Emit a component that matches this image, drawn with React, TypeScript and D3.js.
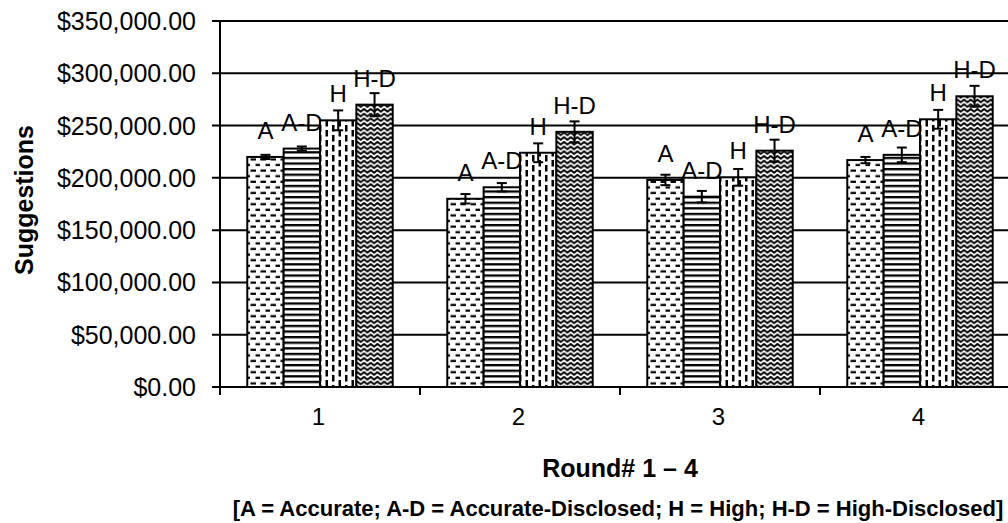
import React from "react";
import * as d3 from "d3";

const categories = ["1", "2", "3", "4"];
const seriesNames = ["A", "A-D", "H", "H-D"];
const valuesA = [220000, 180000, 198000, 217000];
const valuesAD = [228000, 191000, 182000, 222000];
const valuesH = [255000, 224000, 200500, 256000];
const valuesHD = [270000, 244000, 226000, 278000];
const errA = [2000, 4500, 5000, 3000];
const errAD = [2000, 4000, 5500, 7000];
const errH = [9500, 9000, 8000, 9000];
const errHD = [11000, 10000, 10500, 10000];
const yTicks = [0, 50000, 100000, 150000, 200000, 250000, 300000, 350000];
const yTitle = "Suggestions";
const xTitle = "Round# 1 \u2013 4";
const note = "[A = Accurate; A-D = Accurate-Disclosed; H = High; H-D = High-Disclosed]";

const seriesValues = [valuesA, valuesAD, valuesH, valuesHD];
const seriesErrors = [errA, errAD, errH, errHD];
const patternIds = ["patA", "patAD", "patH", "patHD"];

const W = 1008;
const H = 523;
const FONT = "'Liberation Sans', Arial, Helvetica, sans-serif";

export default function App() {
  const left = 220;
  const right = 1020;
  const top = 21;
  const bottom = 387;

  const x0 = d3.scaleBand<string>().domain(categories).range([left, right]).paddingInner(0).paddingOuter(0);
  const x1 = d3
    .scaleBand<string>()
    .domain(seriesNames)
    .range([0, x0.bandwidth()])
    .paddingInner(0)
    .paddingOuter(0.75);
  const y = d3.scaleLinear().domain([0, 350000]).range([bottom, top]);
  const fmt = (v: number) => "$" + d3.format(",.2f")(v);

  const boundaries = categories.map((c) => x0(c) as number).concat([right]);

  return (
    <svg
      width={W}
      height={H}
      style={{ position: "absolute", left: 0, top: 0, background: "#fff" }}
      fontFamily={FONT}
    >
      <defs>
        <pattern id="patA" patternUnits="userSpaceOnUse" width={10} height={11.2}>
          <rect width={10} height={11.2} fill="#fff" />
          <rect x={0.5} y={1.5} width={5.5} height={2.2} fill="#000" />
          <rect x={5.5} y={7.1} width={5.5} height={2.2} fill="#000" />
        </pattern>
        <pattern id="patAD" patternUnits="userSpaceOnUse" width={10} height={5.6}>
          <rect width={10} height={5.6} fill="#fff" />
          <rect x={0} y={0} width={10} height={2.3} fill="#000" />
        </pattern>
        <pattern id="patH" patternUnits="userSpaceOnUse" width={13} height={10}>
          <rect width={13} height={10} fill="#fff" />
          <rect x={1.5} y={0} width={2.5} height={6.5} fill="#000" />
          <rect x={8} y={5} width={2.5} height={5} fill="#000" />
          <rect x={8} y={0} width={2.5} height={1.5} fill="#000" />
        </pattern>
        <pattern id="patHD" patternUnits="userSpaceOnUse" width={6.7} height={4.7}>
          <rect width={6.7} height={4.7} fill="#fff" />
          <path d="M-0.5,3.9 L3.35,0.9 L7.2,3.9" fill="none" stroke="#000" strokeWidth={2} />
        </pattern>
      </defs>

      {/* gridlines */}
      {yTicks.map((t) => (
        <line key={"g" + t} x1={left - 8} x2={W} y1={y(t)} y2={y(t)} stroke="#000" strokeWidth={2} />
      ))}
      {/* y axis */}
      <line x1={left} x2={left} y1={top} y2={bottom + 8} stroke="#000" strokeWidth={2} />
      {/* x ticks */}
      {boundaries.map((b, i) => (
        <line key={"xt" + i} x1={b} x2={b} y1={bottom} y2={bottom + 8} stroke="#000" strokeWidth={2} />
      ))}

      {/* y tick labels */}
      {yTicks.map((t) => (
        <text
          key={"yl" + t}
          x={196}
          y={y(t)}
          dy="0.36em"
          textAnchor="end"
          fontSize={25}
          fill="#000"
        >
          {fmt(t)}
        </text>
      ))}

      {/* bars */}
      {categories.map((c, ci) => (
        <g key={"c" + c} transform={`translate(${x0(c)},0)`}>
          {seriesNames.map((s, si) => {
            const v = seriesValues[si][ci];
            const e = seriesErrors[si][ci];
            const bx = x1(s) as number;
            const bw = x1.bandwidth();
            const cx = bx + bw / 2;
            return (
              <g key={s}>
                <rect
                  x={bx}
                  y={y(v)}
                  width={bw}
                  height={y(0) - y(v)}
                  fill={`url(#${patternIds[si]})`}
                  stroke="#000"
                  strokeWidth={2}
                />
                <line x1={cx} x2={cx} y1={y(v + e)} y2={y(v - e)} stroke="#000" strokeWidth={2} />
                <line x1={cx - 5} x2={cx + 5} y1={y(v + e)} y2={y(v + e)} stroke="#000" strokeWidth={2} />
                <line x1={cx - 5} x2={cx + 5} y1={y(v - e)} y2={y(v - e)} stroke="#000" strokeWidth={2} />
                <text x={cx} y={y(v) - 18} textAnchor="middle" fontSize={24} fill="#000">
                  {s}
                </text>
              </g>
            );
          })}
        </g>
      ))}

      {/* x tick labels */}
      {categories.map((c) => (
        <text
          key={"xl" + c}
          x={(x0(c) as number) + x0.bandwidth() / 2 - 1.5}
          y={425}
          textAnchor="middle"
          fontSize={24}
          fill="#000"
        >
          {c}
        </text>
      ))}

      {/* axis titles */}
      <text
        transform={`translate(33,200) rotate(-90)`}
        textAnchor="middle"
        fontSize={25}
        fontWeight="bold"
        fill="#000"
      >
        {yTitle}
      </text>
      <text x={620} y={477} textAnchor="middle" fontSize={25} fontWeight="bold" fill="#000">
        {xTitle}
      </text>
      <text x={618} y={516} textAnchor="middle" fontSize={22} fontWeight="bold" fill="#000">
        {note}
      </text>
    </svg>
  );
}
